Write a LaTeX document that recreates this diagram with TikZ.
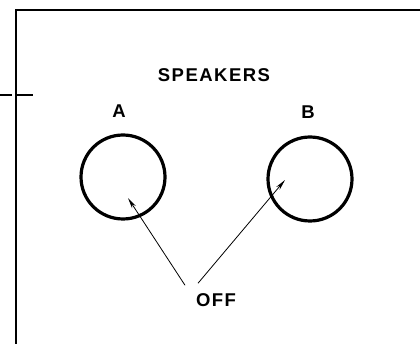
\documentclass[tikz,border=0pt]{standalone}
\usepackage{fontspec}
\newfontfamily\panelfont[LetterSpace=8]{Liberation Sans}
\usetikzlibrary{arrows.meta}

\tikzset{
	panel/.style={line width=1.1pt},
	speaker/.style={circle, draw, line width=3.2pt, minimum size=84pt, inner sep=0pt},
	caption/.style={font=\panelfont\bfseries\fontsize{18.5}{22}\selectfont, inner sep=0pt},
	pointer/.style={line width=0.8pt, -{Stealth[length=11pt, width=4.5pt]}}
}

\begin{document}
\begin{tikzpicture}[x=1pt, y=-1pt]
		\useasboundingbox (0,0) rectangle (420,344);
	
		% front panel edge
		\draw[panel] (420,10) -- (16,10) -- (16,344);
		\draw[panel] (0,95) -- (12,95) (16,95) -- (33,95);
		
		\node[caption] (title) at (214,75) {SPEAKERS};
		
		\node[speaker] (spkA) at (123,177) {};
		\node[speaker] (spkB) at (310,179) {};
		\node[caption] (labA) at (119,111) {A};
		\node[caption] (labB) at (308,112) {B};
		
		\node[caption] (off) at (216,300) {OFF};
		
		% where the arrows point
		\coordinate (tipA) at (128,198);
		\coordinate (tipB) at (285,180);
		
		\draw[pointer] ([xshift=-31pt, yshift=8pt]off.north) -- (tipA);
		\draw[pointer] ([xshift=-18pt, yshift=10pt]off.north) -- (tipB);
		
	\end{tikzpicture}
\end{document}
